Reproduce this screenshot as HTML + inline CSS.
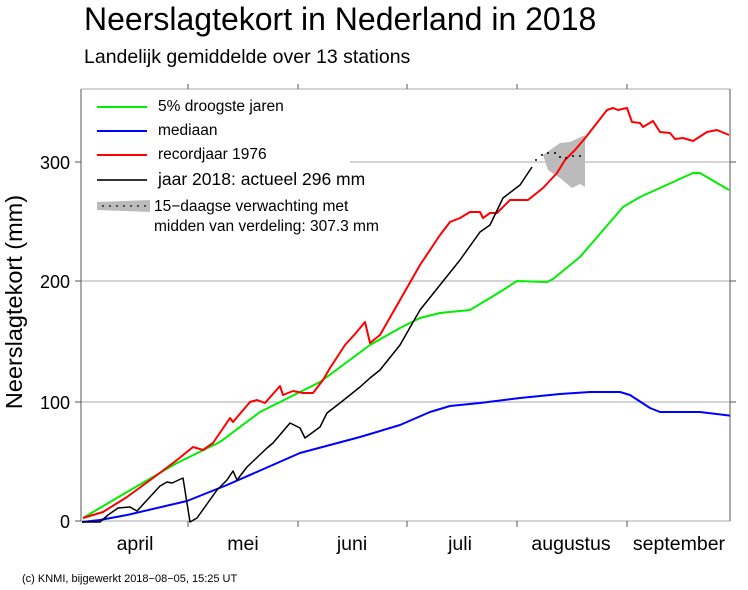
<!DOCTYPE html>
<html><head><meta charset="utf-8"><style>
html,body{margin:0;padding:0;background:#fff}
svg{display:block;font-family:"Liberation Sans",sans-serif}
</style></head><body>
<svg width="748" height="590" viewBox="0 0 748 590" xmlns="http://www.w3.org/2000/svg">
<rect width="748" height="590" fill="#fff"/>
<text x="84" y="30" font-size="32" fill="#000">Neerslagtekort in Nederland in 2018</text>
<text x="84" y="63" font-size="19.5" fill="#000">Landelijk gemiddelde over 13 stations</text>
<text transform="translate(22,302) rotate(-90)" font-size="23.5" text-anchor="middle">Neerslagtekort (mm)</text>
<defs><clipPath id="c"><rect x="81" y="80" width="649" height="445"/></clipPath></defs>
<!-- grid -->
<g stroke="#aaa" stroke-width="1">
<line x1="81" y1="402" x2="730" y2="402"/>
<line x1="81" y1="281" x2="730" y2="281"/>
<line x1="350" y1="162" x2="730" y2="162"/>
<line x1="81" y1="89" x2="730" y2="89"/>
<line x1="81" y1="521" x2="730" y2="521"/>
</g>
<g stroke="#555" stroke-width="1">
<line x1="81" y1="89" x2="81" y2="521"/>
<line x1="730" y1="89" x2="730" y2="521"/>
<line x1="75" y1="521" x2="81" y2="521"/><line x1="75" y1="402" x2="81" y2="402"/><line x1="75" y1="281" x2="81" y2="281"/><line x1="75" y1="162" x2="81" y2="162"/>
<line x1="730" y1="402" x2="736" y2="402"/><line x1="730" y1="281" x2="736" y2="281"/><line x1="730" y1="162" x2="736" y2="162"/>
<line x1="188" y1="521" x2="188" y2="527"/><line x1="298" y1="521" x2="298" y2="527"/><line x1="407" y1="521" x2="407" y2="527"/><line x1="517" y1="521" x2="517" y2="527"/><line x1="627" y1="521" x2="627" y2="527"/>
<line x1="188" y1="89" x2="188" y2="84"/><line x1="298" y1="89" x2="298" y2="84"/><line x1="407" y1="89" x2="407" y2="84"/><line x1="517" y1="89" x2="517" y2="84"/><line x1="627" y1="89" x2="627" y2="84"/>
</g>
<g font-size="18" text-anchor="end">
<text x="70" y="528">0</text><text x="70" y="409">100</text><text x="70" y="288">200</text><text x="70" y="169">300</text>
</g>
<g font-size="19.5" text-anchor="middle">
<text x="135" y="550">april</text><text x="243" y="550">mei</text><text x="352" y="550">juni</text><text x="460" y="550">juli</text><text x="571" y="550">augustus</text><text x="679" y="550">september</text>
</g>
<text x="22" y="582" font-size="11">(c) KNMI, bijgewerkt 2018−08−05, 15:25 UT</text>
<!-- band -->
<polygon points="543,155 560,143 570,142 585,135 585,187 580,184 572,188 560,178 548,170" fill="#bbb"/>
<g fill="none" stroke-width="2" stroke-linejoin="round" clip-path="url(#c)">
<polyline stroke="#0000ff" points="82,522 100,520 127,515 187,501 227,485 300,453 360,437 400,425 430,412 450,406 480,403 520,398 560,394 590,392 620,392 630,395 650,408 660,412 700,412 733,416"/>
<polyline stroke="#00ee00" points="83,518 127,492 177,463 220,442 260,412 320,382 370,345 400,328 420,318 440,313 470,310 490,298 503,290 517,281 547,282 553,279 580,257 623,207 640,197 693,173 700,173 729,190"/>
<polyline stroke="#ff0000" points="83,518 103,512 127,497 153,478 177,460 193,447 203,450 213,443 230,418 233,422 250,402 257,400 265,403 280,386 283,395 293,391 303,393 313,393 323,380 330,368 345,345 355,334 365,322 370,343 380,335 400,300 420,265 440,235 450,222 460,218 470,212 480,212 483,218 490,213 497,213 510,200 528,200 543,188 557,173 565,160 575,150 586,137 607,110 613,108 618,110 627,108 632,122 640,123 643,127 653,121 660,132 670,133 675,139 683,138 693,141 707,132 717,130 729,135"/>
<polyline stroke="#000" stroke-width="1.5" points="82,522 100,522 108,515 118,508 130,507 137,511 160,486 167,482 172,483 183,478 190,522 197,518 217,490 227,480 233,471 237,480 247,467 267,448 273,443 290,423 300,428 305,438 320,427 327,413 340,403 360,387 370,378 380,370 400,345 420,310 440,285 460,260 480,232 490,225 503,198 520,185 532,167"/>
</g>
<g fill="#000">
<circle cx="536" cy="160" r="1"/><circle cx="542" cy="155" r="1"/><circle cx="548" cy="153" r="1"/><circle cx="555" cy="153" r="1"/><circle cx="560" cy="157" r="1"/><circle cx="566" cy="158" r="1"/><circle cx="573" cy="156" r="1"/><circle cx="580" cy="156" r="1"/>
</g>
<!-- legend -->
<g stroke-width="2">
<line x1="97" y1="107" x2="147" y2="107" stroke="#00ee00"/>
<line x1="97" y1="131" x2="147" y2="131" stroke="#0000ff"/>
<line x1="97" y1="155" x2="147" y2="155" stroke="#ff0000"/>
<line x1="97" y1="180" x2="147" y2="180" stroke="#333"/>
</g>
<polygon points="97,202 150,200 150,212 97,210" fill="#bbb"/>
<g fill="#000"><circle cx="103" cy="206" r="0.9"/><circle cx="110" cy="206" r="0.9"/><circle cx="117" cy="206" r="0.9"/><circle cx="124" cy="206" r="0.9"/><circle cx="131" cy="206" r="0.9"/><circle cx="138" cy="206" r="0.9"/><circle cx="145" cy="206" r="0.9"/></g>
<g font-size="15.5">
<text x="158" y="111">5% droogste jaren</text>
<text x="158" y="135">mediaan</text>
<text x="158" y="159">recordjaar 1976</text>
<text x="158" y="185" font-size="17.5">jaar 2018: actueel 296 mm</text>
<text x="154" y="211">15−daagse verwachting met</text>
<text x="154" y="231">midden van verdeling: 307.3 mm</text>
</g>
</svg>
</body></html>
